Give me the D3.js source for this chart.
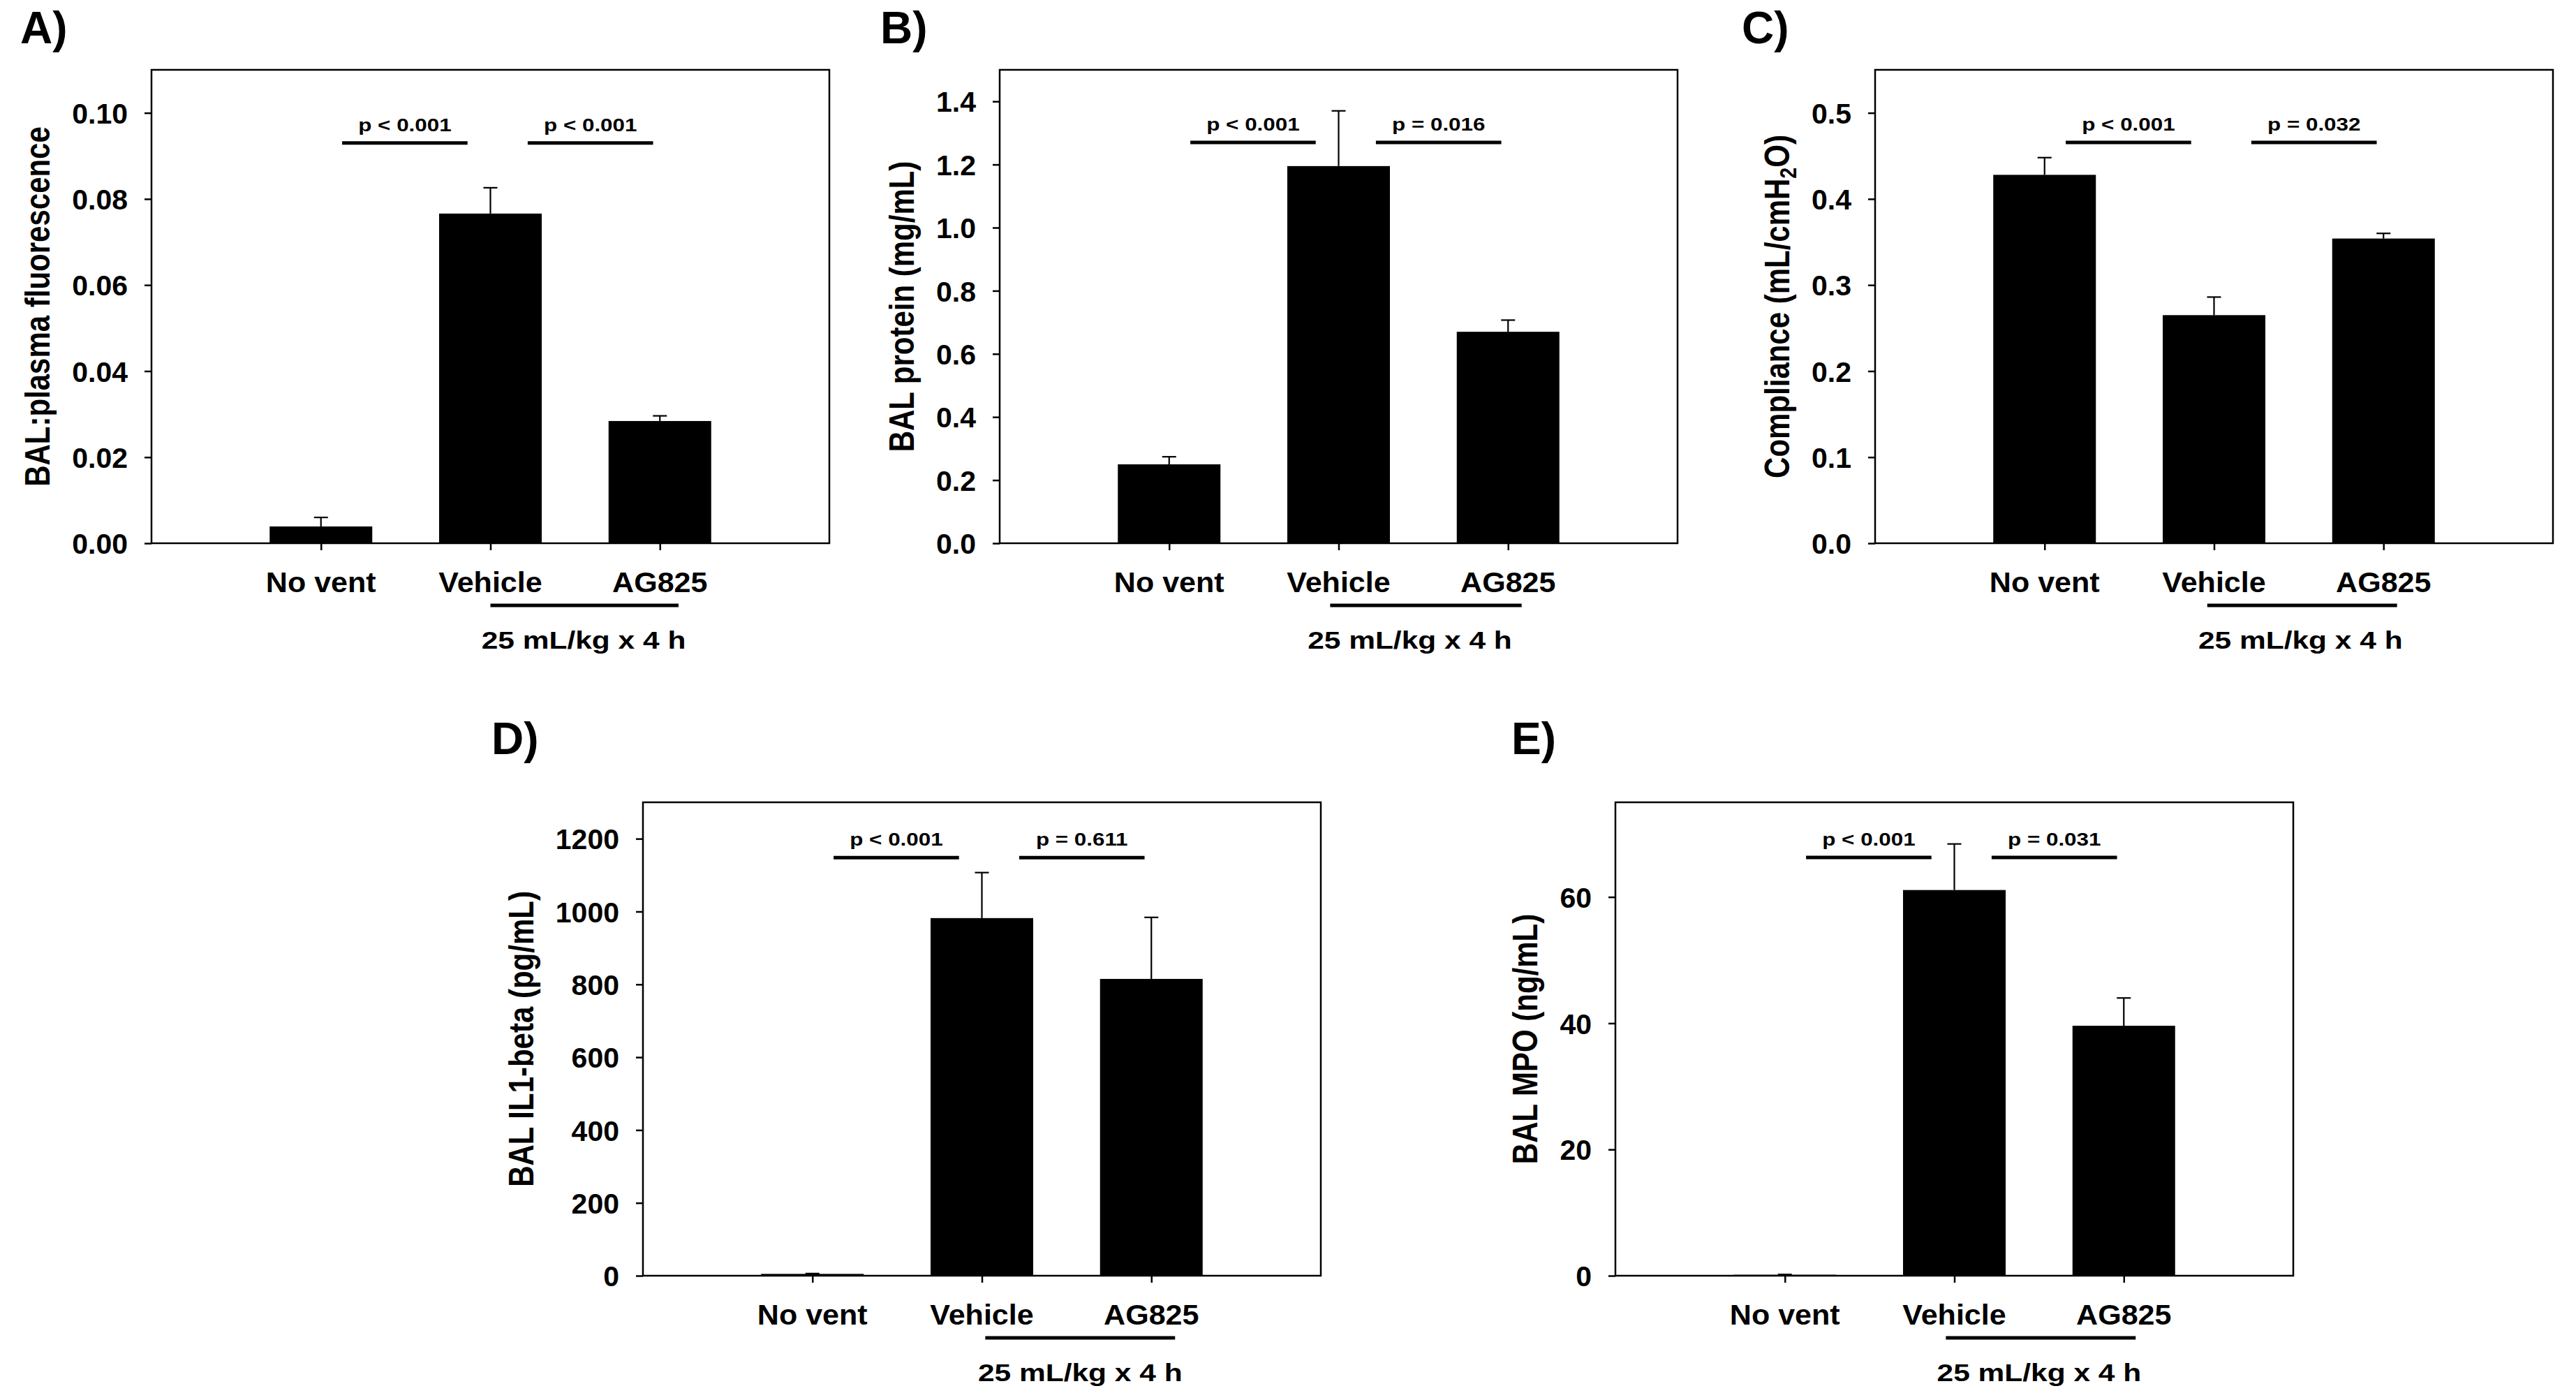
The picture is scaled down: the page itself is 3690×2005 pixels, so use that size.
<!DOCTYPE html>
<html>
<head>
<meta charset="utf-8">
<script src="https://cdn.jsdelivr.net/npm/d3@7/dist/d3.min.js"></script>
<style>
  body { margin: 0; background: #fff; }
  text { font-family: "Liberation Sans", Arial, sans-serif; font-weight: bold; fill: #000; }
</style>
</head>
<body>
<svg id="fig" width="3690" height="2005"></svg>
<script>
var groups = ['No vent', 'Vehicle', 'AG825'],
  subLabel = '25 mL/kg x 4 h';

// values (mean, sem)
var leakMean = [0.0039, 0.0766, 0.0284],
  leakSem = [0.0021, 0.0060, 0.0012],
  proteinMean = [0.250, 1.195, 0.670],
  proteinSem = [0.024, 0.175, 0.037],
  complianceMean = [0.428, 0.265, 0.354],
  complianceSem = [0.020, 0.021, 0.006],
  il1Mean = [5, 982, 815],
  il1Sem = [1, 125, 169],
  mpoMean = [0.15, 61.1, 39.6],
  mpoSem = [0.05, 7.3, 4.4];

var leakTicks = [0, 0.02, 0.04, 0.06, 0.08, 0.10],
  proteinTicks = [0, 0.2, 0.4, 0.6, 0.8, 1.0, 1.2, 1.4],
  complianceTicks = [0, 0.1, 0.2, 0.3, 0.4, 0.5],
  il1Ticks = [0, 200, 400, 600, 800, 1000, 1200],
  mpoTicks = [0, 20, 40, 60];

var pLeak = ['p < 0.001', 'p < 0.001'],
  pProtein = ['p < 0.001', 'p = 0.016'],
  pCompliance = ['p < 0.001', 'p = 0.032'],
  pIl1 = ['p < 0.001', 'p = 0.611'],
  pMpo = ['p < 0.001', 'p = 0.031'];

var W = 971, H = 678;

var panels = [
  {tag: 'A)', mean: leakMean, sem: leakSem, ticks: leakTicks, yMax: 0.11, fmt: '.2f',
    title: ['BAL:plasma fluorescence'], p: pLeak, pY: 0.093,
    left: 217, top: 100, tagX: 29, tagY: 62, bracket: [2.0, 3.11], subX: 2.55},
  {tag: 'B)', mean: proteinMean, sem: proteinSem, ticks: proteinTicks, yMax: 1.5, fmt: '.1f',
    title: ['BAL protein (mg/mL)'], p: pProtein, pY: 1.27,
    left: 1432, top: 100, tagX: 1261, tagY: 62, bracket: [1.95, 3.08], subX: 2.42},
  {tag: 'C)', mean: complianceMean, sem: complianceSem, ticks: complianceTicks, yMax: 0.55, fmt: '.1f',
    title: ['Compliance (mL/cmH', '2', 'O)'], p: pCompliance, pY: 0.4656,
    left: 2686, top: 100, tagX: 2495, tagY: 62, bracket: [1.96, 3.08], subX: 2.51},
  {tag: 'D)', mean: il1Mean, sem: il1Sem, ticks: il1Ticks, yMax: 1300, fmt: 'd',
    title: ['BAL IL1-beta (pg/mL)'], p: pIl1, pY: 1148,
    left: 921, top: 1149, tagX: 704, tagY: 1080, bracket: [2.02, 3.14], subX: 2.58},
  {tag: 'E)', mean: mpoMean, sem: mpoSem, ticks: mpoTicks, yMax: 75, fmt: 'd',
    title: ['BAL MPO (ng/mL)'], p: pMpo, pY: 66.25,
    left: 2314, top: 1149, tagX: 2165, tagY: 1080, bracket: [1.95, 3.07], subX: 2.5}
];

var svg = d3.select('#fig');

svg.append('rect').attr('width', 3690).attr('height', 2005).attr('fill', '#fff');

function stretchText(g, x, y, str, size, sx, anchor) {
  return g.append('text')
    .attr('transform', 'translate(' + x + ',' + y + ') scale(' + sx + ',1)')
    .attr('text-anchor', anchor || 'middle')
    .attr('font-size', size)
    .text(str);
}

function drawPanel(cfg) {
  var g = svg.append('g').attr('transform', 'translate(' + cfg.left + ',' + cfg.top + ')');

  var x = d3.scaleLinear().domain([0, 4]).range([0, W]),
    y = d3.scaleLinear().domain([0, cfg.yMax]).range([H, 0]),
    barW = 147;

  // bars
  g.selectAll('.bar')
    .data(cfg.mean)
    .enter().append('rect')
    .attr('class', 'bar')
    .attr('x', function (d, i) { return x(i + 1) - barW / 2; })
    .attr('width', barW)
    .attr('y', function (d) { return y(d); })
    .attr('height', function (d) { return H - y(d); })
    .attr('fill', '#000');

  // upper error bars
  var err = g.selectAll('.err')
    .data(cfg.mean)
    .enter().append('g')
    .attr('class', 'err');

  err.append('line')
    .attr('x1', function (d, i) { return x(i + 1); })
    .attr('x2', function (d, i) { return x(i + 1); })
    .attr('y1', function (d) { return y(d); })
    .attr('y2', function (d, i) { return y(d + cfg.sem[i]); })
    .attr('stroke', '#000').attr('stroke-width', 2.2);

  err.append('line')
    .attr('x1', function (d, i) { return x(i + 1) - 10; })
    .attr('x2', function (d, i) { return x(i + 1) + 10; })
    .attr('y1', function (d, i) { return y(d + cfg.sem[i]); })
    .attr('y2', function (d, i) { return y(d + cfg.sem[i]); })
    .attr('stroke', '#000').attr('stroke-width', 2.2);

  // frame
  g.append('rect')
    .attr('width', W).attr('height', H)
    .attr('fill', 'none').attr('stroke', '#000').attr('stroke-width', 2.5);

  // y axis
  var yAxis = g.append('g')
    .call(d3.axisLeft(y).tickValues(cfg.ticks).tickSize(10).tickPadding(24)
      .tickFormat(d3.format(cfg.fmt)));
  yAxis.select('.domain').remove();
  yAxis.selectAll('line').attr('stroke-width', 2.5);
  yAxis.selectAll('text').attr('font-size', 41).attr('font-family', null).attr('dy', '0.36em');

  // x axis ticks
  var xAxis = g.append('g')
    .attr('transform', 'translate(0,' + H + ')')
    .call(d3.axisBottom(x).tickValues([1, 2, 3]).tickSize(10).tickFormat(''));
  xAxis.select('.domain').remove();
  xAxis.selectAll('line').attr('stroke-width', 2.5);

  groups.forEach(function (name, i) {
    stretchText(g, x(i + 1), H + 70, name, 41, 1.05);
  });

  // bracket under ventilated groups
  g.append('line')
    .attr('x1', x(cfg.bracket[0])).attr('x2', x(cfg.bracket[1]))
    .attr('y1', H + 89).attr('y2', H + 89)
    .attr('stroke', '#000').attr('stroke-width', 5);
  stretchText(g, x(cfg.subX), H + 151, subLabel, 36, 1.18);

  // p-value lines
  var pSpans = [[1.125, 1.865], [2.22, 2.96]];
  cfg.p.forEach(function (txt, i) {
    var s = pSpans[i];
    g.append('line')
      .attr('x1', x(s[0])).attr('x2', x(s[1]))
      .attr('y1', y(cfg.pY)).attr('y2', y(cfg.pY))
      .attr('stroke', '#000').attr('stroke-width', 5);
    stretchText(g, x((s[0] + s[1]) / 2), y(cfg.pY) - 17, txt, 25.5, 1.23);
  });

  // y title, placed left of the tick labels
  var labelLeft = yAxis.node().getBBox().x,
    tx = labelLeft - 32;
  var title = g.append('text')
    .attr('transform', 'translate(' + tx + ',' + (H / 2) + ') rotate(-90) scale(0.84,1)')
    .attr('text-anchor', 'middle')
    .attr('font-size', 50);
  title.append('tspan').text(cfg.title[0]);
  if (cfg.title.length > 1) {
    title.append('tspan').attr('font-size', 34).attr('dy', 10).text(cfg.title[1]);
    title.append('tspan').attr('dy', -10).text(cfg.title[2]);
  }

  // panel tag
  stretchText(svg, cfg.tagX, cfg.tagY, cfg.tag, 64, 1, 'start');
}

panels.forEach(drawPanel);
</script>
</body>
</html>
